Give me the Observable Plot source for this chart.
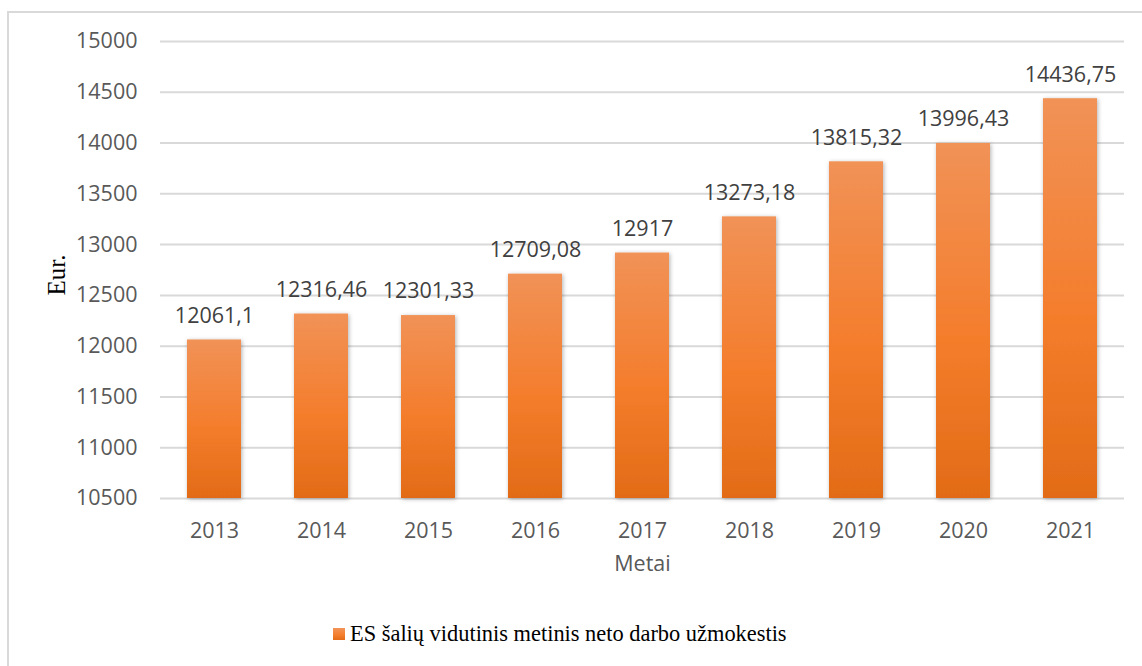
<!DOCTYPE html>
<html>
<head>
<meta charset="utf-8">
<script src="https://cdn.jsdelivr.net/npm/d3@7"></script>
<script src="https://cdn.jsdelivr.net/npm/@observablehq/plot@0.6"></script>
<style>
  html, body { margin: 0; padding: 0; background: #fff; }
  #wrap { position: relative; width: 1142px; height: 666px; overflow: hidden; }
  #frame { position: absolute; left: 7px; top: 11px; width: 1200px; height: 700px;
           border: 2px solid #d9d9d9; box-sizing: border-box; }
  #chart { position: absolute; left: 0; top: 0; }
  #legend { position: absolute; left: 333px; top: 621px; font-family: "Liberation Serif", "Times New Roman", serif;
            font-size: 22.4px; color: #000; display: flex; align-items: center; white-space: nowrap; }
  #legend .sw { width: 12px; height: 12px; margin-right: 5px;
                background: linear-gradient(#f29459, #f47f2f 55%, #e36c18); }
</style>
</head>
<body>
<div id="wrap">
  <div id="frame"></div>
  <div id="chart"></div>
  <div id="legend"><span class="sw"></span><span>ES šalių vidutinis metinis neto darbo užmokestis</span></div>
</div>
<script>
const years = ["2013", "2014", "2015", "2016", "2017", "2018", "2019", "2020", "2021"];
const values = [12061.1, 12316.46, 12301.33, 12709.08, 12917, 13273.18, 13815.32, 13996.43, 14436.75];
const yTicks = [10500, 11000, 11500, 12000, 12500, 13000, 13500, 14000, 14500, 15000];
const yTitle = "Eur.";
const xTitle = "Metai";

const data = years.map((y, i) => ({year: y, value: values[i]}));
const fmt = v => String(v).replace(".", ",");

const chart = Plot.plot({
  width: 1142,
  height: 600,
  marginLeft: 160,
  marginRight: 18,
  marginTop: 41,
  marginBottom: 102,
  style: {fontSize: "21.5px", fontFamily: "'Open Sans', sans-serif", color: "#595959", background: "transparent"},
  x: {domain: years, paddingInner: 0.5, paddingOuter: 0.25, label: null},
  y: {domain: [10500, 15000], ticks: yTicks, label: null},
  marks: [
    Plot.gridY(yTicks, {stroke: "#d9d9d9", strokeOpacity: 1, strokeWidth: 2}),
    Plot.axisY(yTicks, {tickSize: 0, tickPadding: 23, tickFormat: d => String(d), fill: "#595959", label: null}),
    Plot.axisX({tickSize: 0, tickPadding: 24, fill: "#595959", label: null}),
    Plot.barY(data, {x: "year", y1: 10500, y2: "value", fill: "url(#barGrad)"}),
    Plot.text(data, {x: "year", y: "value", text: d => fmt(d.value), dy: -24, fill: "#404040", fontSize: 21.5}),
    Plot.text([yTitle], {frameAnchor: "left", textAnchor: "middle", dx: -104, dy: 5, rotate: -90, fill: "#000", fontSize: 25}),
    Plot.text([xTitle], {frameAnchor: "bottom", dy: 72, fill: "#595959", fontSize: 21.5})
  ]
});

const svg = d3.select(chart);
const defs = svg.insert("defs", ":first-child");
const g = defs.append("linearGradient").attr("id", "barGrad").attr("x1", 0).attr("y1", 0).attr("x2", 0).attr("y2", 1);
g.append("stop").attr("offset", "0%").attr("stop-color", "#f19257");
g.append("stop").attr("offset", "55%").attr("stop-color", "#f47d2c");
g.append("stop").attr("offset", "100%").attr("stop-color", "#e26b17");
const f = defs.append("filter").attr("id", "shadow").attr("x", "-20%").attr("y", "-5%").attr("width", "140%").attr("height", "115%");
f.append("feDropShadow").attr("dx", 1).attr("dy", 1).attr("stdDeviation", 2).attr("flood-color", "#000").attr("flood-opacity", 0.3);
svg.selectAll("g[aria-label='bar'] rect").attr("filter", "url(#shadow)");
svg.selectAll("text").filter(function() { return this.textContent === yTitle; })
  .style("font-family", "'Liberation Serif', 'Times New Roman', serif").style("font-size", "25px");

document.getElementById("chart").appendChild(chart);
</script>
</body>
</html>
